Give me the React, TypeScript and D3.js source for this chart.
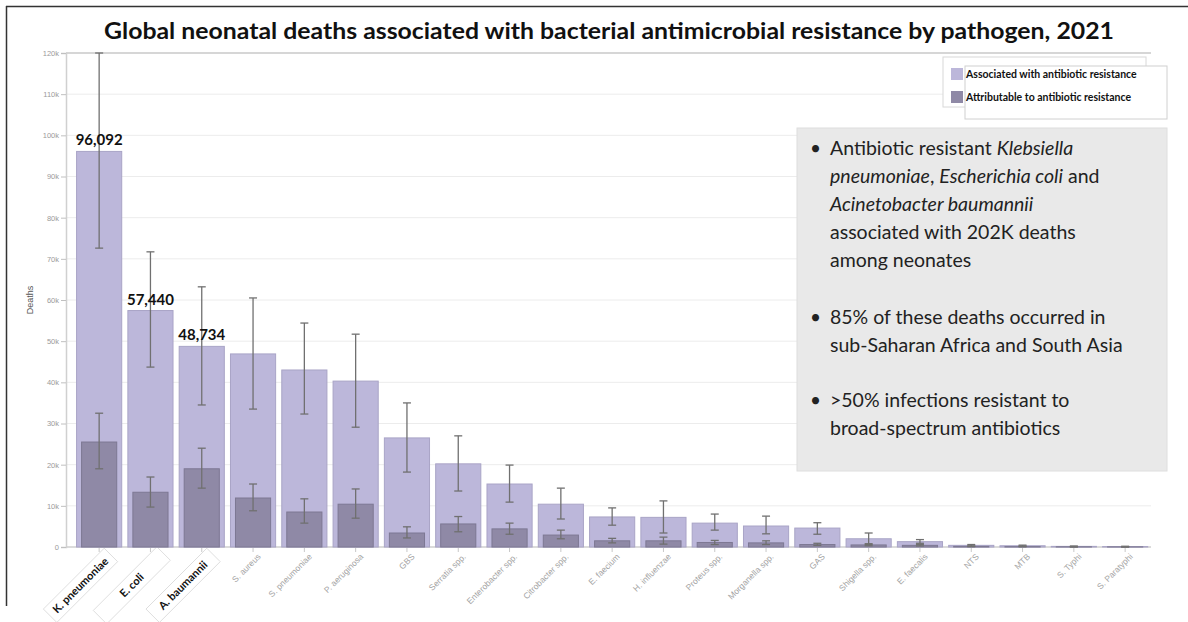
import { useEffect, useRef } from "react";
import * as d3 from "d3";

const categories = [
  "K. pneumoniae", "E. coli", "A. baumannii", "S. aureus", "S. pneumoniae", "P. aeruginosa",
  "GBS", "Serratia spp.", "Enterobacter spp.", "Citrobacter spp.", "E. faecium", "H. influenzae",
  "Proteus spp.", "Morganella spp.", "GAS", "Shigella spp.", "E. faecalis", "NTS", "MTB",
  "S. Typhi", "S. Paratyphi",
];
const highlighted = ["K. pneumoniae", "E. coli", "A. baumannii"];

const associated = [96092, 57440, 48734, 46900, 43000, 40300, 26500, 20200, 15300, 10400, 7300, 7200, 5800, 5100, 4600, 2000, 1300, 400, 300, 150, 100];
const associatedLow = [72600, 43700, 34500, 33500, 32300, 29100, 18200, 13600, 10900, 6800, 5300, 3400, 4100, 3200, 3100, 600, 900, 200, 150, 80, 50];
const associatedHigh = [120000, 71700, 63200, 60500, 54400, 51700, 35000, 27000, 19900, 14300, 9500, 11200, 8000, 7500, 5900, 3400, 1800, 600, 450, 250, 180];

const attributable = [25500, 13300, 19000, 11900, 8500, 10400, 3400, 5600, 4400, 2900, 1500, 1500, 1100, 1000, 600, 500, 400, 150, 100, 50, 30];
const attributableLow = [19000, 9700, 14300, 8800, 5800, 7000, 2200, 3700, 3100, 2000, 1000, 700, 600, 600, 400, 300, 250, 80, 50, 20, 10];
const attributableHigh = [32500, 17000, 24000, 15300, 11700, 14100, 4900, 7400, 5800, 4100, 2100, 2400, 1600, 1500, 900, 800, 600, 250, 180, 90, 60];

const yTicks = [0, 10000, 20000, 30000, 40000, 50000, 60000, 70000, 80000, 90000, 100000, 110000, 120000];
const valueLabels = ["96,092", "57,440", "48,734"];

const legendItems = ["Associated with antibiotic resistance", "Attributable to antibiotic resistance"];

const title = "Global neonatal deaths associated with bacterial antimicrobial resistance by pathogen, 2021";

const ASSOC_FILL = "#bcb7da";
const ATTR_FILL = "#8f89a6";

export default function App() {
  const ref = useRef<SVGSVGElement>(null);

  useEffect(() => {
    if (!ref.current) return;
    const svg = d3.select(ref.current);
    svg.selectAll("*").remove();

    svg.append("rect").attr("width", 1188).attr("height", 622).attr("fill", "#fff");

    // frame
    svg.append("line").attr("x1", 6).attr("x2", 1188).attr("y1", 6.5).attr("y2", 6.5).attr("stroke", "#333").attr("stroke-width", 1.5);
    svg.append("line").attr("x1", 6.5).attr("x2", 6.5).attr("y1", 6).attr("y2", 606).attr("stroke", "#333").attr("stroke-width", 1.5);

    svg
      .append("text")
      .attr("x", 609)
      .attr("y", 39)
      .attr("text-anchor", "middle")
      .attr("textLength", 1010)
      .attr("lengthAdjust", "spacingAndGlyphs")
      .style("font-family", "Lato, 'Open Sans', sans-serif")
      .style("font-weight", "700")
      .style("font-size", "22px")
      .style("fill", "#111")
      .text(title);

    const x = d3.scaleBand().domain(categories).range([73.5, 1150.8]).paddingInner(0.12).paddingOuter(0.06);
    const y = d3.scaleLinear().domain([0, 120000]).range([547, 53]);
    const left = 66;
    const right = 1151;

    // gridlines
    svg
      .append("g")
      .selectAll("line")
      .data(yTicks)
      .enter()
      .append("line")
      .attr("x1", left)
      .attr("x2", right)
      .attr("y1", (d) => y(d))
      .attr("y2", (d) => y(d))
      .attr("stroke", (d) => (d === 120000 ? "#c8c8c8" : d === 0 ? "#cfcfcf" : "#ececec"))
      .attr("stroke-width", (d) => (d === 0 || d === 120000 ? 1.6 : 1));

    // y axis
    const yAxis = svg
      .append("g")
      .attr("transform", `translate(${left},0)`)
      .call(d3.axisLeft(y).tickValues(yTicks).tickSize(5).tickPadding(2).tickFormat((d) => (+d === 0 ? "0" : `${+d / 1000}k`)));
    yAxis.select(".domain").attr("stroke", "#d0d0d0").attr("stroke-width", 1.5);
    yAxis.selectAll(".tick line").attr("stroke", "#c0c0c0");
    yAxis
      .selectAll(".tick text")
      .style("fill", "#9a9a9a")
      .style("font-size", "7.5px")
      .style("font-family", "'Liberation Sans', Arial, sans-serif");

    svg
      .append("text")
      .attr("transform", "translate(33,300) rotate(-90)")
      .attr("text-anchor", "middle")
      .style("font-family", "'Liberation Sans', Arial, sans-serif")
      .style("font-size", "9px")
      .style("fill", "#555")
      .text("Deaths");

    const bw = x.bandwidth();
    const cx = (c: string) => (x(c) ?? 0) + bw / 2;

    // x labels (drawn first so the boxes sit under the axis)
    const xl = svg.append("g");
    categories.forEach((c) => {
      const xc = cx(c);
      if (highlighted.includes(c)) {
        const g = xl.append("g").attr("transform", `translate(${xc - 19},${585}) rotate(-45)`);
        const L = c === "E. coli" ? 90 : 86;
        g.append("rect").attr("x", -L / 2).attr("y", -9).attr("width", L).attr("height", 19).attr("fill", "#fff").attr("stroke", "#d8d8d8").attr("stroke-width", 0.8);
        g.append("text")
          .attr("text-anchor", "middle")
          .attr("dy", "0.38em")
          .style("font-family", "Lato, 'Open Sans', sans-serif")
          .style("font-weight", "700")
          .style("font-size", "11px")
          .style("fill", "#111")
          .text(c);
      } else {
        xl.append("text")
          .attr("transform", `translate(${xc + 4},${553}) rotate(-45)`)
          .attr("text-anchor", "end")
          .attr("dy", "0.7em")
          .style("font-family", "'Liberation Sans', Arial, sans-serif")
          .style("font-size", "8.5px")
          .style("fill", "#a3a3a3")
          .text(c);
      }
    });

    // associated bars
    svg
      .append("g")
      .selectAll("rect")
      .data(categories)
      .enter()
      .append("rect")
      .attr("x", (c) => x(c)!)
      .attr("width", bw)
      .attr("y", (_c, i) => y(associated[i]))
      .attr("height", (_c, i) => y(0) - y(associated[i]))
      .attr("fill", ASSOC_FILL)
      .attr("stroke", "#a9a4c6")
      .attr("stroke-width", 1);

    // attributable bars
    const inset = 5;
    svg
      .append("g")
      .selectAll("rect")
      .data(categories)
      .enter()
      .append("rect")
      .attr("x", (c) => x(c)! + inset)
      .attr("width", bw - inset * 2)
      .attr("y", (_c, i) => y(attributable[i]))
      .attr("height", (_c, i) => y(0) - y(attributable[i]))
      .attr("fill", ATTR_FILL)
      .attr("stroke", "#7d7893")
      .attr("stroke-width", 1);

    // error bars
    const drawErr = (lo: number[], hi: number[]) => {
      const g = svg.append("g").attr("stroke", "#707070").attr("stroke-width", 1.3).attr("fill", "none");
      categories.forEach((c, i) => {
        const xc = cx(c);
        g.append("line").attr("x1", xc).attr("x2", xc).attr("y1", y(lo[i])).attr("y2", y(hi[i]));
        g.append("line").attr("x1", xc - 4).attr("x2", xc + 4).attr("y1", y(lo[i])).attr("y2", y(lo[i]));
        g.append("line").attr("x1", xc - 4).attr("x2", xc + 4).attr("y1", y(hi[i])).attr("y2", y(hi[i]));
      });
    };
    drawErr(associatedLow, associatedHigh);
    drawErr(attributableLow, attributableHigh);

    // value labels
    svg
      .append("g")
      .selectAll("text")
      .data(valueLabels)
      .enter()
      .append("text")
      .attr("x", (_d, i) => cx(categories[i]))
      .attr("y", (_d, i) => y(associated[i]) - 6)
      .attr("text-anchor", "middle")
      .style("font-family", "Lato, 'Open Sans', sans-serif")
      .style("font-weight", "700")
      .style("font-size", "15px")
      .style("fill", "#111")
      .text((d) => d);

    // x ticks
    svg
      .append("g")
      .selectAll("line")
      .data(categories)
      .enter()
      .append("line")
      .attr("x1", (c) => cx(c))
      .attr("x2", (c) => cx(c))
      .attr("y1", 548)
      .attr("y2", 552)
      .attr("stroke", "#c8c8c8");

    // legend
    const lg = svg.append("g");
    lg.append("rect").attr("x", 943).attr("y", 57).attr("width", 203).attr("height", 50).attr("fill", "#fff").attr("stroke", "#d8d8d8");
    lg.append("rect").attr("x", 965).attr("y", 66).attr("width", 202).attr("height", 53).attr("fill", "#fff").attr("stroke", "#d0d0d0");
    legendItems.forEach((t, i) => {
      lg.append("rect").attr("x", 951).attr("y", 68 + i * 23).attr("width", 12).attr("height", 12).attr("fill", i === 0 ? ASSOC_FILL : ATTR_FILL);
      lg.append("text")
        .attr("x", 966)
        .attr("y", 78 + i * 23)
        .style("font-family", "Lato, 'Open Sans', sans-serif")
        .style("font-weight", "700")
        .style("font-size", "10.5px")
        .style("fill", "#111")
        .text(t);
    });

    // annotation box
    const ab = svg.append("g");
    ab.append("rect").attr("x", 797).attr("y", 128).attr("width", 370).attr("height", 343).attr("fill", "#e9e9e9").attr("stroke", "#dedede");
    const font = "Lato, 'Open Sans', sans-serif";
    const bullets: { y: number; lines: [string, boolean][][] }[] = [
      {
        y: 155,
        lines: [
          [["Antibiotic resistant ", false], ["Klebsiella", true]],
          [["pneumoniae", true], [", ", false], ["Escherichia coli", true], [" and", false]],
          [["Acinetobacter baumannii", true]],
          [["associated with 202K deaths", false]],
          [["among neonates", false]],
        ],
      },
      {
        y: 324,
        lines: [[["85% of these deaths occurred in", false]], [["sub-Saharan Africa and South Asia", false]]],
      },
      {
        y: 407,
        lines: [[[">50% infections resistant to", false]], [["broad-spectrum antibiotics", false]]],
      },
    ];
    bullets.forEach((b) => {
      ab.append("text").attr("x", 810).attr("y", b.y).style("font-family", font).style("font-size", "19px").style("fill", "#222").text("•");
      b.lines.forEach((ln, j) => {
        const t = ab
          .append("text")
          .attr("x", 830)
          .attr("y", b.y + j * 28)
          .style("font-family", font)
          .style("font-size", "19.5px")
          .style("fill", "#222");
        ln.forEach(([s, it]) => {
          t.append("tspan").style("font-style", it ? "italic" : "normal").text(s);
        });
      });
    });
  }, []);

  return <svg ref={ref} width={1188} height={622} style={{ position: "absolute", left: 0, top: 0 }} />;
}
